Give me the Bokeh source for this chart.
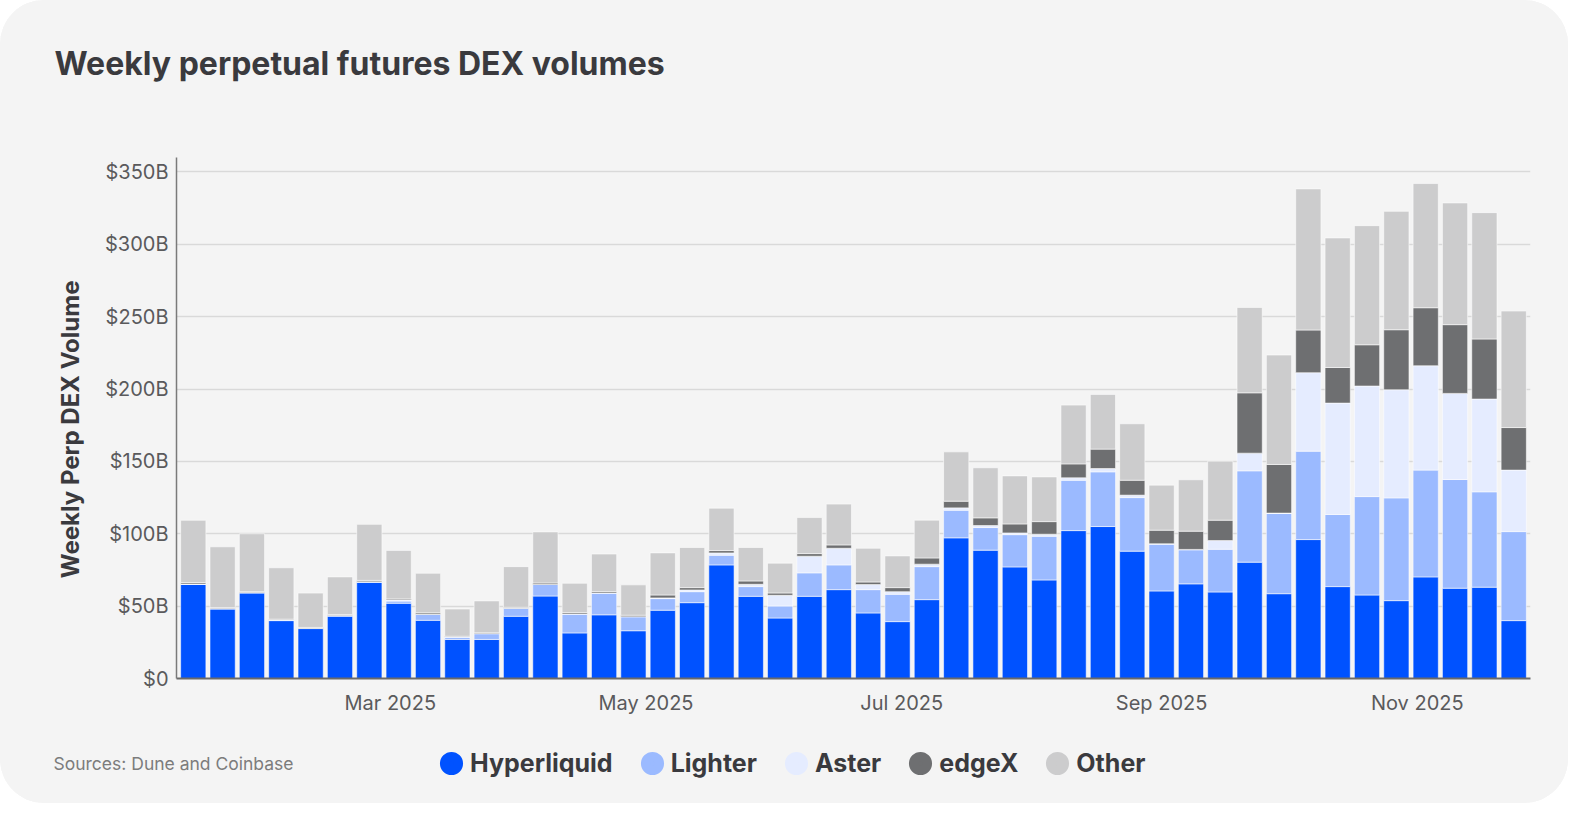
import pandas as pd
from bokeh.plotting import figure
from bokeh.layouts import column
from bokeh.models import (ColumnDataSource, FixedTicker, DatetimeTickFormatter,
                          Legend, LegendItem, Label, Range1d)
from bokeh.embed import file_html
from bokeh.resources import INLINE

# weekly volumes in $B, week starting dates
weeks = pd.date_range("2025-01-13", periods=46, freq="7D")

hyperliquid = [65, 48, 59, 40, 34.5, 43, 66.5, 52, 40.2, 27, 27, 43, 57, 31.5, 44, 33,
               47.2, 52.4, 78.5, 56.8, 41.8, 56.8, 61.4, 45.3, 39.3, 54.5, 97.2, 88.7,
               77.1, 68.1, 102.2, 105, 88, 60.5, 65.4, 59.8, 80.4, 58.6, 96, 63.5, 57.7,
               53.8, 70.2, 62.4, 63.1, 40]
lighter = [0.3, 0.3, 0.5, 0.5, 0.3, 0.5, 0.3, 1.5, 4.2, 1.6, 4, 5.5, 8, 13, 15, 9.7,
           8, 7.6, 6.7, 6.7, 8.3, 16.2, 17.1, 16.1, 18.9, 22.8, 19.1, 15.6, 22.3, 30.2,
           34.8, 37.8, 37, 32.3, 23.5, 29.5, 63.1, 55.4, 61.1, 49.8, 68, 71, 73.8, 75.1,
           65.9, 61.5]
aster = [0, 0, 0, 0, 0, 0, 0, 0.8, 0, 0, 0, 0, 0, 0, 0, 0,
         0.5, 1.2, 1.6, 1.6, 7.4, 11.5, 11.5, 3.5, 1.8, 1.7, 1.6, 1.4, 1.2, 1.4,
         1.7, 2.3, 1.7, 0.3, 0.3, 6, 12.2, 0.3, 54.2, 77, 76.4, 74.7, 72.1, 59.5,
         64.1, 42.5]
edgex = [1, 0.7, 0.5, 0.5, 0.5, 0.7, 1, 0.7, 1, 0.6, 0.6, 0.7, 1, 1, 1, 1,
         2, 1.6, 1.6, 2.3, 1.6, 1.8, 2.3, 1.8, 2.8, 4.3, 4.6, 5.3, 6.2, 8.7,
         9.6, 13.4, 10.3, 9.4, 12.6, 14.1, 41.7, 33.6, 29.5, 24.6, 28.5, 41.5, 40.1,
         47.5, 41.5, 29.4]
other = [43, 42, 40, 35.5, 23.7, 26, 38.7, 33.5, 27.3, 18.8, 22, 28.1, 35.3, 20.3, 26, 21,
         29.1, 27.7, 29.3, 23.1, 20.6, 24.9, 28.2, 23.3, 21.9, 26.1, 34.1, 34.6, 33.2,
         30.9, 40.6, 37.8, 39, 31.1, 35.5, 40.8, 59, 75.6, 97.5, 89.5, 82.3, 81.8, 85.8,
         84.1, 87.3, 80.5]

series = ["Hyperliquid", "Lighter", "Aster", "edgeX", "Other"]
colors = ["#0052ff", "#9bbaff", "#e5ecff", "#6e6f71", "#cccccd"]

y_ticks = [0, 50, 100, 150, 200, 250, 300, 350]
y_tick_labels = ["$0", "$50B", "$100B", "$150B", "$200B", "$250B", "$300B", "$350B"]
month_ticks = ["2025-03-01", "2025-05-01", "2025-07-01", "2025-09-01", "2025-11-01"]

BG = "#f4f4f4"
DARK = "#3a3a3e"
FONT = "Inter"
W = 1568


def blank(h):
    f = figure(width=W, height=h, x_range=Range1d(0, W), y_range=Range1d(0, h),
               x_axis_location=None, y_axis_location=None, frame_align=False,
               min_border=0, output_backend="svg", toolbar_location=None,
               background_fill_color=BG, border_fill_color=BG, outline_line_color=None)
    f.grid.visible = False
    return f


# header with title
head = blank(137)
head.add_layout(Label(x=54, y=74, text="Weekly perpetual futures DEX volumes",
                      text_font=FONT, text_font_style="bold", text_font_size="32px",
                      text_color=DARK, text_baseline="middle"))

# main chart
src = ColumnDataSource(dict(week=weeks, Hyperliquid=hyperliquid, Lighter=lighter,
                            Aster=aster, edgeX=edgex, Other=other))

p = figure(width=W, height=581, x_axis_type="datetime",
           x_range=Range1d(pd.Timestamp("2025-01-09"), pd.Timestamp("2025-11-28")),
           y_range=Range1d(0, 360), frame_align=False,
           output_backend="svg", toolbar_location=None,
           min_border_left=176, min_border_right=38, min_border_top=20, min_border_bottom=40,
           background_fill_color=BG, border_fill_color=BG, outline_line_color=None)

week_ms = 7 * 24 * 3600 * 1000
p.vbar_stack(series, x="week", width=week_ms * 0.86, source=src,
             fill_color=colors, line_color="white", line_alpha=0.55, line_width=1)

p.xgrid.grid_line_color = None
p.ygrid.grid_line_color = "#d9d9d9"
p.ygrid.grid_line_width = 1.5

p.yaxis.ticker = FixedTicker(ticks=y_ticks)
p.yaxis.major_label_overrides = dict(zip(y_ticks, y_tick_labels))
p.xaxis.ticker = FixedTicker(ticks=[pd.Timestamp(d).value // 10**6 for d in month_ticks])
p.xaxis.formatter = DatetimeTickFormatter(months="%b %Y", days="%b %Y")

for ax in (p.xaxis, p.yaxis):
    ax.major_tick_line_color = None
    ax.minor_tick_line_color = None
    ax.major_tick_out = 0
    ax.major_label_text_font = FONT
    ax.major_label_text_font_size = "20px"
    ax.major_label_text_color = "#5a5a5c"

p.yaxis.axis_line_color = "#7a7a7a"
p.yaxis.axis_line_width = 1.5
p.yaxis.major_label_standoff = 8
p.xaxis.axis_line_color = "#6a6a6a"
p.xaxis.axis_line_width = 2
p.xaxis.major_label_standoff = 12

# trailing no-break spaces nudge the rotated label a little below the frame centre
p.yaxis.axis_label = "Weekly Perp DEX Volume" + "\u00a0" * 4
p.yaxis.axis_label_text_font = FONT
p.yaxis.axis_label_text_font_style = "bold"
p.yaxis.axis_label_text_font_size = "24px"
p.yaxis.axis_label_text_color = DARK
p.yaxis.axis_label_standoff = 17

# footer: sources + legend with round markers
foot = blank(85)
foot.add_layout(Label(x=53, y=40, text="Sources: Dune and Coinbase", text_font=FONT,
                      text_font_size="17.5px", text_color="#7c7c7c", text_baseline="middle"))

items = []
for name, c in zip(series, colors):
    # thick outline in the same colour makes a bigger dot inside a small glyph box
    r = foot.scatter(x="week", y=name, source=src, marker="circle", size=10,
                     fill_color=c, line_color=c, line_width=9.5, visible=False)
    items.append(LegendItem(label=name, renderers=[r]))

legend = Legend(items=items, orientation="horizontal", location=(434, 23),
                glyph_width=34, glyph_height=34, label_height=34,
                label_standoff=2, spacing=22, padding=0, margin=0,
                border_line_color=None, background_fill_alpha=0,
                label_text_font=FONT, label_text_font_style="bold",
                label_text_font_size="25px", label_text_color=DARK)
foot.add_layout(legend, "center")

page = column(head, p, foot, spacing=0,
              styles={"border-radius": "44px", "overflow": "hidden", "background": BG})

open("out.html", "w").write(file_html(page, INLINE))
